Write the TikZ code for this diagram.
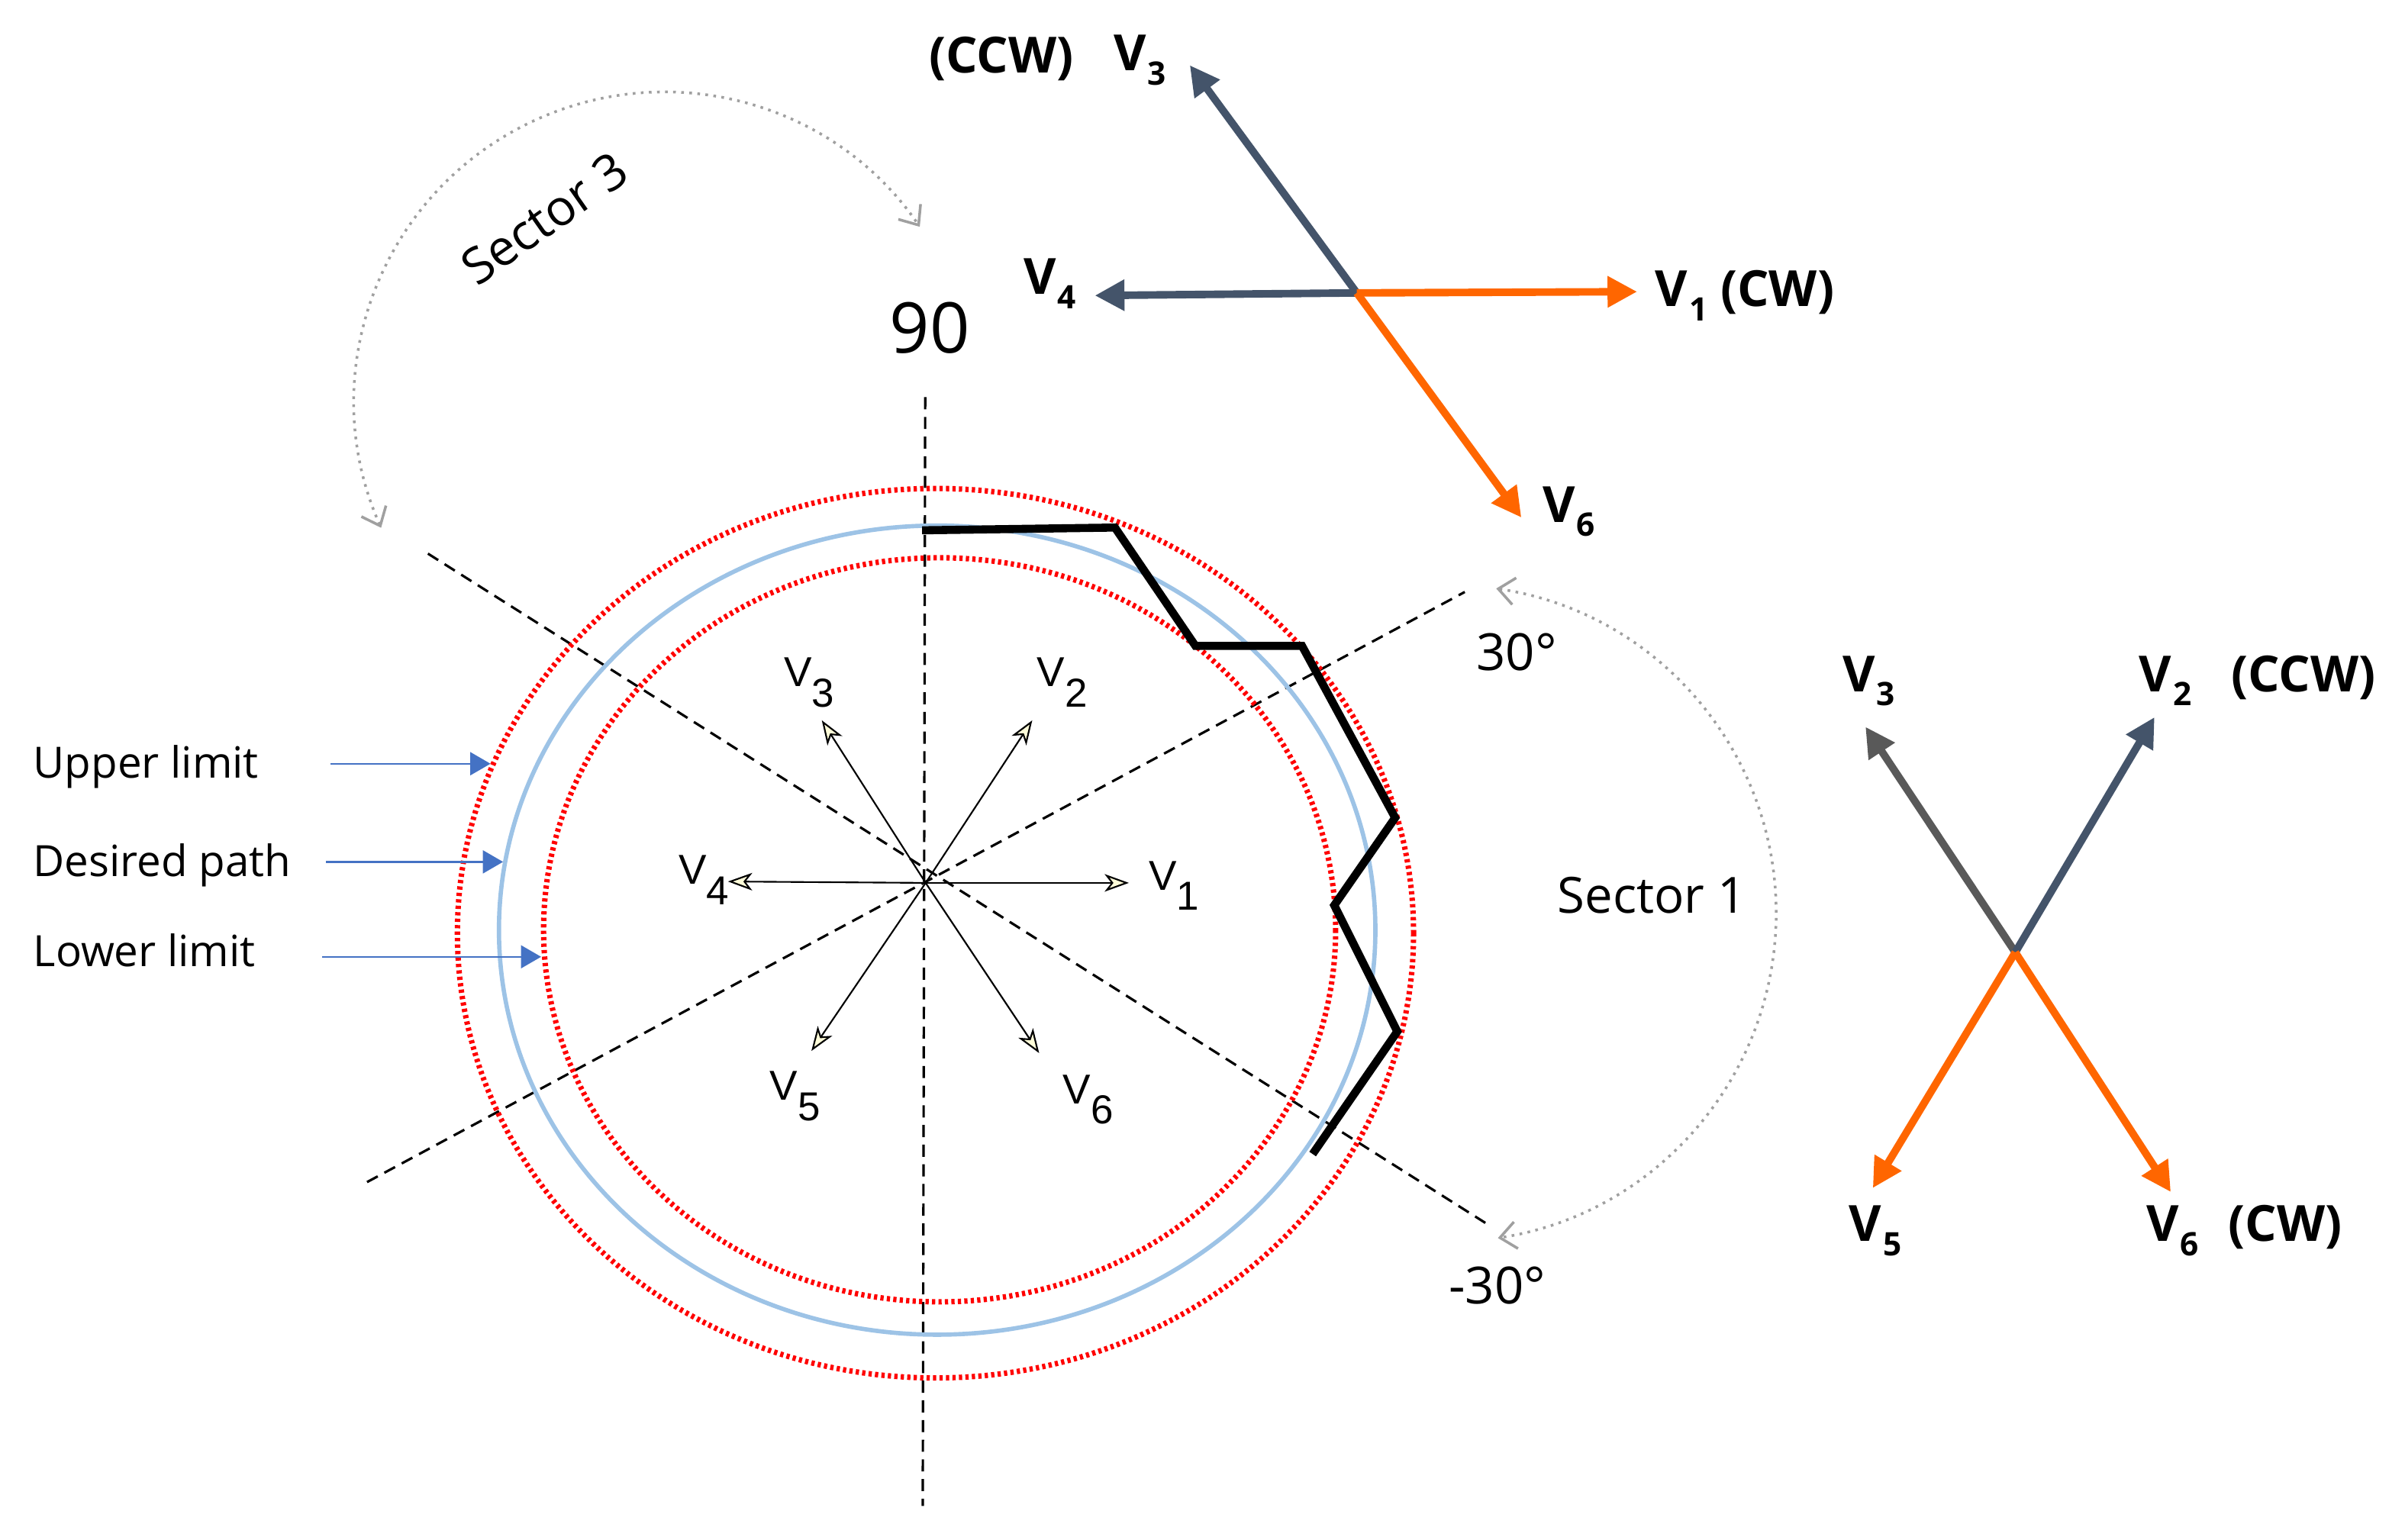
\documentclass[tikz,border=0pt]{standalone}
\usepackage{fontspec}
\setmainfont{Open Sans}
\newfontfamily\arialf{Liberation Sans}
\usetikzlibrary{arrows.meta}
\usetikzlibrary{positioning}
\usepackage{xcolor}
\definecolor{vorange}{RGB}{255,102,0}
\definecolor{vslate}{RGB}{68,84,106}
\definecolor{vgrey}{RGB}{89,89,89}
\definecolor{pathblue}{RGB}{157,195,230}
\definecolor{lblue}{RGB}{68,114,196}
\definecolor{arcgrey}{RGB}{160,160,160}
\newcommand{\vin}[1]{V\raisebox{-7.5pt}{\fontsize{15}{15}\selectfont #1}}
\newcommand{\vbold}[1]{V\kern0.5pt\raisebox{-5.2pt}{\fontsize{12}{12}\selectfont #1}}

\begin{document}
\begin{tikzpicture}[x=0.02cm,y=-0.02cm,
    ax/.style={dash pattern=on 4.5pt off 2.8pt,line width=0.9pt},%
    lim/.style={red,line width=2pt,dash pattern=on 1.2pt off 1.2pt},%
    des/.style={pathblue,line width=1.6pt},%
    zig/.style={line width=3pt,line join=miter},%
    vi/.style={line width=0.6pt,-{Stealth[length=9pt,width=6.5pt,inset=2.5pt,fill=yellow!15]}},%
    vo/.style={line width=2.8pt,-{Triangle[length=11pt,width=11pt]}},%
    lb/.style={lblue,line width=0.7pt,-{Triangle[length=7.5pt,width=8.5pt]}},%
    sarc/.style={arcgrey,dotted,line width=1pt,{Straight Barb[length=6pt,width=10pt]}-{Straight Barb[length=6pt,width=10pt]}},%
    t/.style={inner sep=0pt,anchor=base west,font=\fontsize{16}{16}\selectfont},%
    ts/.style={inner sep=0pt,anchor=base west,font=\fontsize{18.5}{18}\selectfont},%
    ti/.style={inner sep=0pt,anchor=base west,font=\arialf\fontsize{15.5}{15}\selectfont},%
    tb/.style={inner sep=0pt,anchor=base west,font=\fontsize{18.5}{18}\selectfont\bfseries}]
    \useasboundingbox (0,0) rectangle (1568,1004);

    % sector boundaries
    \coordinate (ax90a) at (603.2,259);
    \coordinate (ax90b) at (601.6,982);
    \coordinate (axpa) at (239.3,770.8);
    \coordinate (axpb) at (955,386);
    \coordinate (axma) at (279,361);
    \coordinate (axmb) at (971.7,799.5);
    \draw[ax] (ax90a) -- (ax90b);
    \draw[ax] (axpa) -- (axpb);
    \draw[ax] (axma) -- (axmb);

    % limits and desired path
    \draw[lim] (609.9,608.5) ellipse [x radius=311.7,y radius=290];
    \draw[des] (611,606.5) ellipse [x radius=285.7,y radius=263.8];
    \draw[lim] (612.6,606.3) ellipse [x radius=258.2,y radius=242.6];

    % flux trajectory
    \draw[zig] (601.2,345.8) -- (726.9,344) -- (779.4,421.2) -- (848.9,421.2)
        -- (909.6,533.2) -- (869.9,590.3) -- (911,672.6) -- (855.8,752.5);

    % inner voltage vectors
    \coordinate (O) at (603.5,575.7);
    \coordinate (i1) at (736,575.7);
    \coordinate (i2) at (673,469.7);
    \coordinate (i3) at (535.8,469.7);
    \coordinate (i4) at (474.6,574.8);
    \coordinate (i5) at (529,685.3);
    \coordinate (i6) at (677.5,686.7);
    \foreach \k in {1,...,6} \draw[vi] (O) -- (i\k);
    \node[ti] (li1) at (748.8,580.3) {\vin{1}};
    \node[ti] (li2) at (675.7,447.8) {\vin{2}};
    \node[ti] (li3) at (510.7,447.8) {\vin{3}};
    \node[ti] (li4) at (442.2,576.6) {\vin{4}};
    \node[ti] (li5) at (501.6,717.4) {\vin{5}};
    \node[ti] (li6) at (692.6,719.6) {\vin{6}};

    % legend
    \node[t] (tup) at (21.4,507.5) {Upper limit};
    \node[t] (tdes) at (21.4,571.5) {Desired path};
    \node[t] (tlow) at (21.4,630) {Lower limit};
    \coordinate (up0) at (215.4,498);
    \coordinate (up1) at (319.8,498);
    \coordinate (de0) at (212.5,562);
    \coordinate (de1) at (328,562);
    \coordinate (lo0) at (210,623.9);
    \coordinate (lo1) at (352.8,623.9);
    \draw[lb] (up0) -- (up1);
    \draw[lb] (de0) -- (de1);
    \draw[lb] (lo0) -- (lo1);

    % angles and sectors
    \node[inner sep=0pt,anchor=base west,font=\fontsize{26}{26}\selectfont] (t90) at (579.7,230.2) {90};
    \node[inner sep=0pt,anchor=base west,font=\fontsize{19}{19}\selectfont] (t30) at (962.2,437) {30°};
    \node[inner sep=0pt,anchor=base west,font=\fontsize{19}{19}\selectfont] (tm30) at (944.3,850) {-30°};
    \node[ts] (tsec1) at (1015.2,595.4) {Sector 1};
    \node[inner sep=0pt,rotate=35,font=\fontsize{18.5}{18}\selectfont] (tsec3) at (355,142.4) {Sector 3};
    \draw[sarc] (433,262) ++(156:202) arc[start angle=156,end angle=325.6,radius=202];
    \draw[sarc] (943.8,595.6) ++(-81.5:214.2) arc[start angle=-81.5,end angle=81.2,radius=214.2];

    % vectors, sector 3
    \coordinate (A) at (884.6,191);
    \coordinate (a1) at (1067.4,190.2);
    \coordinate (a3) at (775.7,42.5);
    \coordinate (a4) at (713.8,192.7);
    \coordinate (a6) at (991.9,337.5);
    \draw[vo,vslate] (A) -- (a3);
    \draw[vo,vslate] (A) -- (a4);
    \draw[vo,vorange] (A) -- (a1);
    \draw[vo,vorange] (A) -- (a6);
    \node[tb] (accw) at (605.3,47.5) {(CCW)};
    \node[tb] (av3) at (725.8,46.2) {\vbold{3}};
    \node[tb] (av4) at (667.2,191.9) {\vbold{4}};
    \node[tb] (av1) at (1078.9,200) {\vbold{1} (CW)};
    \node[tb] (av6) at (1005.5,340.4) {\vbold{6}};

    % vectors, sector 1
    \coordinate (B) at (1313.9,621);
    \coordinate (b2) at (1404.7,467.6);
    \coordinate (b3) at (1216.2,473.9);
    \coordinate (b5) at (1221,774.7);
    \coordinate (b6) at (1415.3,777.3);
    \draw[vo,vgrey] (B) -- (b3);
    \draw[vo,vslate] (B) -- (b2);
    \draw[vo,vorange] (B) -- (b5);
    \draw[vo,vorange] (B) -- (b6);
    \node[tb] (bv3) at (1201,451) {\vbold{3}};
    \node[tb] (bv2) at (1394.4,451) {\vbold{2}};
    \node[tb] (bccw) at (1454.4,451) {(CCW)};
    \node[tb] (bv5) at (1205.3,809.5) {\vbold{5}};
    \node[tb] (bv6) at (1399,809.5) {\vbold{6}};
    \node[tb] (bcw) at (1452.4,809.5) {(CW)};
\end{tikzpicture}
\end{document}
